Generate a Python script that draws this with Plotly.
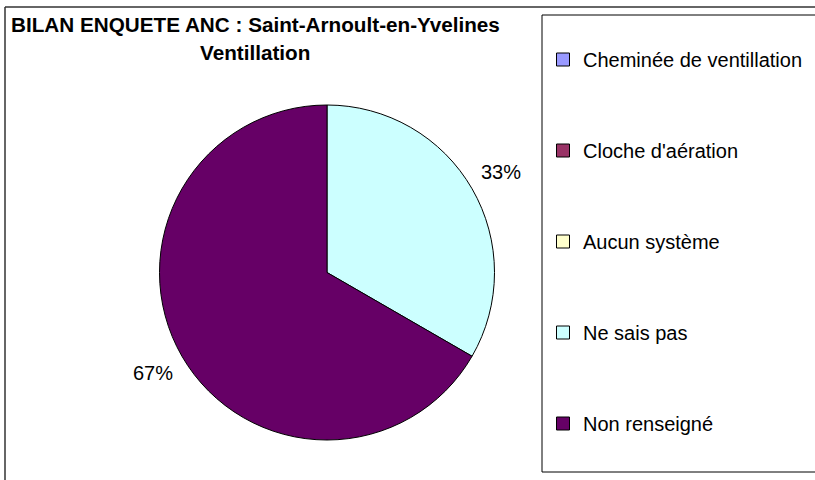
import math
import plotly.graph_objects as go

# data
labels = ["Cheminée de ventillation", "Cloche d'aération", "Aucun système",
          "Ne sais pas", "Non renseigné"]
values = [0, 0, 0, 1, 2]
colors = ["#9999FF", "#993366", "#FFFFCC", "#CCFFFF", "#660066"]
title_lines = ["BILAN ENQUETE ANC : Saint-Arnoult-en-Yvelines", "Ventillation"]

W, H = 815, 480
FONT = "Arial, Liberation Sans, sans-serif"

# pie placement (pixels)
cx, cy, r = 327, 272.5, 167.5
dom_x = [(cx - r) / W, (cx + r) / W]
dom_y = [1 - (cy + r) / H, 1 - (cy - r) / H]

fig = go.Figure()
fig.add_trace(go.Pie(
    labels=labels,
    values=values,
    sort=False,
    direction="clockwise",
    rotation=0,
    marker=dict(colors=colors, line=dict(color="black", width=1)),
    textinfo="none",
    hoverinfo="label+percent",
    showlegend=False,
    domain=dict(x=dom_x, y=dom_y),
))

# legend entries (one group each so the gap can be set)
for lab, col in zip(labels, colors):
    fig.add_trace(go.Scatter(
        x=[None], y=[None], mode="markers", name=lab,
        legendgroup=lab,
        marker=dict(symbol="square", size=13, color=col,
                    line=dict(color="black", width=1)),
    ))

# percentage labels outside each non-empty slice
total = sum(values)
cum = 0
annotations = []
for v in values:
    if v > 0:
        mid = (cum + v / 2) / total * 2 * math.pi
        lx = cx + 1.2 * r * math.sin(mid)
        ly = cy - 1.2 * r * math.cos(mid)
        annotations.append(dict(
            x=lx / W, y=1 - ly / H, xref="paper", yref="paper",
            text=f"{round(v / total * 100)}%", showarrow=False,
            font=dict(family=FONT, size=20, color="black"),
            xanchor="center", yanchor="middle",
        ))
    cum += v

# title, two centred lines
for line, ty in zip(title_lines, [24, 53]):
    annotations.append(dict(
        x=255 / W, y=1 - ty / H, xref="paper", yref="paper",
        text=f"<b>{line}</b>", showarrow=False,
        xanchor="center", yanchor="middle",
        font=dict(family=FONT, size=20.7, color="black"),
    ))

shapes = [
    # outer chart frame (top and left edges visible)
    dict(type="line", xref="paper", yref="paper",
         x0=5 / W, y0=1 - 7 / H, x1=1.1, y1=1 - 7 / H,
         line=dict(color="#333333", width=1.5)),
    dict(type="line", xref="paper", yref="paper",
         x0=5 / W, y0=1 - 7 / H, x1=5 / W, y1=-0.1,
         line=dict(color="#333333", width=1.5)),
    # legend box (right side runs off the picture)
    dict(type="rect", xref="paper", yref="paper",
         x0=542 / W, y0=1 - 472 / H, x1=1.1, y1=1 - 15 / H,
         line=dict(color="black", width=1)),
]

fig.update_layout(
    width=W, height=H,
    margin=dict(l=0, r=0, t=0, b=0),
    paper_bgcolor="white",
    plot_bgcolor="white",
    xaxis=dict(visible=False),
    yaxis=dict(visible=False),
    font=dict(family=FONT, color="black"),
    legend=dict(
        x=543 / W, xanchor="left",
        y=1 - 40 / H, yanchor="top",
        font=dict(family=FONT, size=20, color="black"),
        tracegroupgap=62,
        bgcolor="rgba(0,0,0,0)",
    ),
    annotations=annotations,
    shapes=shapes,
)

# drop the browser's default body margin so the chart sits at the page corner
fig.write_html("out.html", config={"displayModeBar": False},
               post_script="document.body.style.margin='0';")
